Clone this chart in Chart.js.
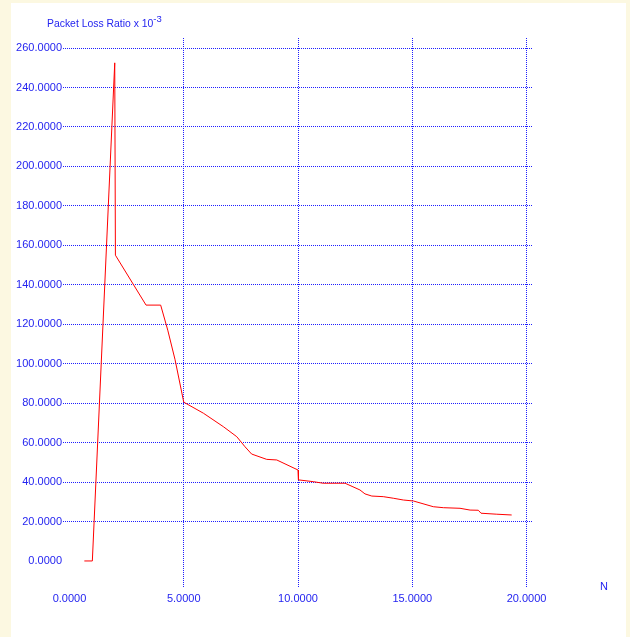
<!DOCTYPE html>
<html>
<head>
<meta charset="utf-8">
<script src="https://cdn.jsdelivr.net/npm/chart.js@4"></script>
<style>
  html, body { margin: 0; padding: 0; background: #fcf8e1; }
  canvas { display: block; }
</style>
</head>
<body>
<canvas id="plr" width="630" height="637"></canvas>
<script>
// N values and packet loss ratio (x 10^-3)
const nValues = [0.65, 1.0, 1.98, 2.01, 3.35, 3.99, 4.3, 4.62, 5.0, 5.86, 6.73, 7.32, 7.68, 7.97,
  8.63, 9.07, 10.0, 10.02, 10.67, 11.1, 12.06, 12.71, 12.93, 13.23, 13.73, 14.17, 14.61, 15.05,
  15.92, 16.36, 17.09, 17.53, 17.89, 18.01, 18.7, 19.35];
const lossRatio = [0, 0, 252.5, 155, 129.7, 129.7, 117, 102, 80.5, 74.9, 68.1, 63, 57.9, 54.2,
  51.5, 51.2, 46.1, 41.1, 40.2, 39.4, 39.4, 36.0, 34.0, 32.9, 32.6, 31.8, 30.9, 30.4,
  27.5, 27.0, 26.7, 25.8, 25.7, 24.2, 23.7, 23.3];

const xTicks = [0, 5, 10, 15, 20];
const yTicks = [0, 20, 40, 60, 80, 100, 120, 140, 160, 180, 200, 220, 240, 260];

const blue = '#2424f0';
const gridBlue = '#1e1eff';

// pale page behind a white panel, plus title and axis name
const decor = {
  id: 'decor',
  beforeDraw(chart) {
    const c = chart.ctx;
    c.save();
    c.fillStyle = '#fcf8e1';
    c.fillRect(0, 0, chart.width, chart.height);
    c.fillStyle = '#ffffff';
    c.fillRect(11, 3, 615, chart.height - 3);
    c.restore();
  },
  afterDraw(chart) {
    const c = chart.ctx;
    c.save();
    c.fillStyle = blue;
    c.textBaseline = 'alphabetic';
    c.font = '10.4px "Liberation Sans", Arial, sans-serif';
    const t = 'Packet Loss Ratio x 10';
    c.fillText(t, 47, 27);
    const w = c.measureText(t).width;
    c.font = '9.5px "Liberation Sans", Arial, sans-serif';
    c.fillText('-3', 47 + w, 22);
    c.font = '11px "Liberation Sans", Arial, sans-serif';
    c.fillText('N', 600, 590);
    c.restore();
  }
};

const gridColor = (ctx) => (ctx.tick && ctx.tick.value === 0) ? 'rgba(0,0,0,0)' : gridBlue;

new Chart(document.getElementById('plr'), {
  type: 'line',
  data: {
    datasets: [{
      data: nValues.map((n, i) => ({ x: n, y: lossRatio[i] })),
      borderColor: '#ff0000',
      borderWidth: 1,
      pointRadius: 0,
      tension: 0,
      fill: false
    }]
  },
  options: {
    responsive: false,
    animation: false,
    devicePixelRatio: 1,
    layout: { padding: { left: 0, top: 38, right: 98, bottom: 0 } },
    plugins: { legend: { display: false }, tooltip: { enabled: false } },
    scales: {
      x: {
        type: 'linear',
        min: -0.284,
        max: 20.24,
        afterBuildTicks: (s) => { s.ticks = xTicks.map(v => ({ value: v })); },
        afterFit: (s) => { s.height = 50; },
        grid: { color: gridColor, drawTicks: false, lineWidth: 1 },
        border: { display: false, dash: [1, 1] },
        ticks: {
          color: blue,
          padding: 5,
          maxRotation: 0,
          font: { family: '"Liberation Sans", Arial, sans-serif', size: 11 },
          callback: (v) => v.toFixed(4)
        }
      },
      y: {
        type: 'linear',
        min: -13.2,
        max: 265.1,
        afterBuildTicks: (s) => { s.ticks = yTicks.map(v => ({ value: v })); },
        afterFit: (s) => { s.width = 63; },
        grid: { color: gridColor, drawTicks: false, lineWidth: 1 },
        border: { display: false, dash: [1, 1] },
        ticks: {
          color: blue,
          padding: 1,
          font: { family: '"Liberation Sans", Arial, sans-serif', size: 11 },
          callback: (v) => v.toFixed(4)
        }
      }
    }
  },
  plugins: [decor]
});
</script>
</body>
</html>
